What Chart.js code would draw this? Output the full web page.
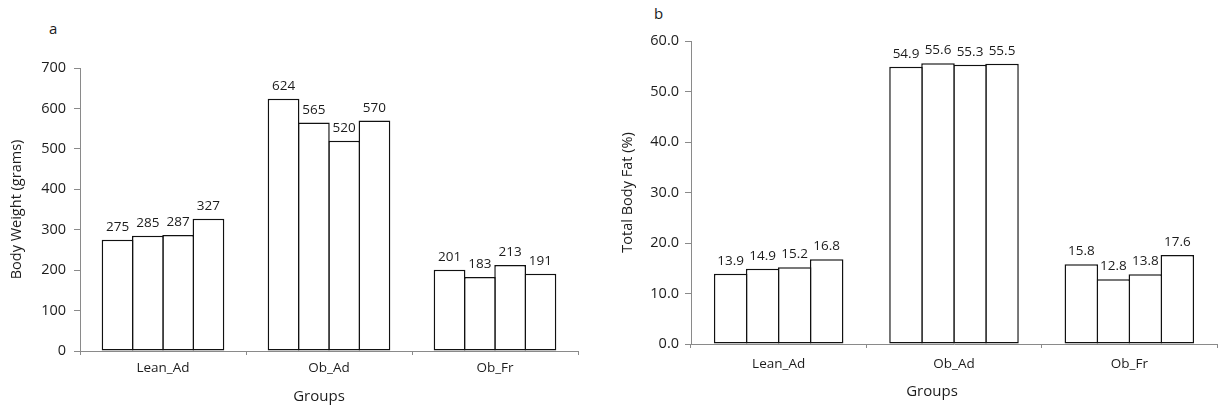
<!DOCTYPE html>
<html>
<head>
<meta charset="utf-8">
<script src="https://cdn.jsdelivr.net/npm/chart.js@4.4.1/dist/chart.umd.min.js"></script>
<style>
    html, body { margin: 0; padding: 0; background: #fff; }
    body { width: 1221px; height: 408px; position: relative; overflow: hidden; font-family: "Open Sans", sans-serif; }
    .panel { position: absolute; top: 0; height: 408px; }
    .tag { position: absolute; font-size: 15px; color: #1a1a1a; line-height: 1; }
</style>
</head>
<body>
<div class="tag" style="left:49px; top:21px;">a</div>
<div class="tag" style="left:654px; top:6px;">b</div>
<div class="panel" style="left:0; width:600px;"><canvas id="weightChart"></canvas></div>
<div class="panel" style="left:600px; width:621px;"><canvas id="fatChart"></canvas></div>
<script>
// Data
const groups = ['Lean_Ad', 'Ob_Ad', 'Ob_Fr'];

const weightS1 = [275, 624, 201];
const weightS2 = [285, 565, 183];
const weightS3 = [287, 520, 213];
const weightS4 = [327, 570, 191];

const fatS1 = [13.9, 54.9, 15.8];
const fatS2 = [14.9, 55.6, 12.8];
const fatS3 = [15.2, 55.3, 13.8];
const fatS4 = [16.8, 55.5, 17.6];

const textColor = '#1c1c1c';
const axisColor = '#8a8a8a';
const fontFamily = '"Open Sans", sans-serif';

// Draws value labels above every bar
const barValueLabels = {
    id: 'barValueLabels',
    afterDatasetsDraw(chart, args, opts) {
        const ctx = chart.ctx;
        ctx.save();
        ctx.font = '13.5px ' + fontFamily;
        ctx.fillStyle = textColor;
        ctx.textAlign = 'center';
        ctx.textBaseline = 'alphabetic';
        chart.data.datasets.forEach((ds, i) => {
            chart.getDatasetMeta(i).data.forEach((bar, j) => {
                ctx.fillText(opts.format(ds.data[j]), bar.x, bar.y - 9);
            });
        });
        ctx.restore();
    }
};

// x axis title, placed a little left of centre like the original
const groupsTitle = {
    id: 'groupsTitle',
    afterDraw(chart, args, opts) {
        const ctx = chart.ctx;
        const area = chart.chartArea;
        ctx.save();
        ctx.font = '15px ' + fontFamily;
        ctx.fillStyle = textColor;
        ctx.textAlign = 'center';
        ctx.textBaseline = 'alphabetic';
        ctx.fillText(opts.text, (area.left + area.right) / 2 + opts.dx, opts.y);
        ctx.restore();
    }
};

function makeDatasets(seriesList) {
    return seriesList.map((values, i) => ({
        label: 'Series ' + (i + 1),
        data: values,
        backgroundColor: '#ffffff',
        borderColor: '#111111',
        borderWidth: 1.5,
        borderSkipped: false,
        categoryPercentage: 0.73,
        // slightly wider than the slot so neighbouring borders sit on top of each other
        barPercentage: 1.048
    }));
}

function buildChart(canvasId, cfg) {
    const ctx = document.getElementById(canvasId);
    return new Chart(ctx, {
        type: 'bar',
        data: {
            labels: groups,
            datasets: makeDatasets(cfg.series)
        },
        options: {
            responsive: true,
            maintainAspectRatio: false,
            animation: false,
            layout: {
                padding: { top: cfg.padTop, right: cfg.padRight, bottom: 0, left: 0 }
            },
            scales: {
                x: {
                    afterFit(scale) { scale.height = cfg.xHeight; },
                    border: { display: true, color: axisColor, width: 1 },
                    grid: {
                        offset: true,
                        drawOnChartArea: false,
                        drawTicks: true,
                        tickLength: 4,
                        color: axisColor
                    },
                    ticks: {
                        color: textColor,
                        padding: cfg.xTickPad,
                        font: { family: fontFamily, size: 13.5 }
                    }
                },
                y: {
                    min: 0,
                    max: cfg.max,
                    afterFit(scale) { scale.width = cfg.yWidth; },
                    border: { display: true, color: axisColor, width: 1 },
                    grid: {
                        drawOnChartArea: false,
                        drawTicks: true,
                        tickLength: 6,
                        color: axisColor
                    },
                    ticks: {
                        stepSize: cfg.step,
                        color: textColor,
                        padding: cfg.yTickPad,
                        font: { family: fontFamily, size: 14.5 },
                        callback: cfg.tickFormat
                    },
                    title: {
                        display: true,
                        text: cfg.yTitle,
                        color: textColor,
                        font: { family: fontFamily, size: 14.5 },
                        padding: { top: cfg.yTitlePad, bottom: 0 }
                    }
                }
            },
            plugins: {
                legend: { display: false },
                tooltip: { enabled: false },
                barValueLabels: { format: cfg.labelFormat },
                groupsTitle: { text: 'Groups', dx: cfg.titleDx, y: cfg.titleY }
            }
        },
        plugins: [barValueLabels, groupsTitle]
    });
}

buildChart('weightChart', {
    series: [weightS1, weightS2, weightS3, weightS4],
    max: 700,
    step: 100,
    yTitle: 'Body Weight (grams)',
    tickFormat: v => String(v),
    labelFormat: v => String(v),
    padTop: 68,
    padRight: 22,
    xHeight: 57,
    yWidth: 80,
    xTickPad: 5,
    yTickPad: 8,
    yTitlePad: 8.5,
    titleDx: -10,
    titleY: 401
});

buildChart('fatChart', {
    series: [fatS1, fatS2, fatS3, fatS4],
    max: 60,
    step: 10,
    yTitle: 'Total Body Fat (%)',
    tickFormat: v => Number(v).toFixed(1),
    labelFormat: v => v.toFixed(1),
    padTop: 41,
    padRight: 4,
    xHeight: 64,
    yWidth: 91,
    xTickPad: 8,
    yTickPad: 6,
    yTitlePad: 19.5,
    titleDx: -22,
    titleY: 396
});
</script>
</body>
</html>
